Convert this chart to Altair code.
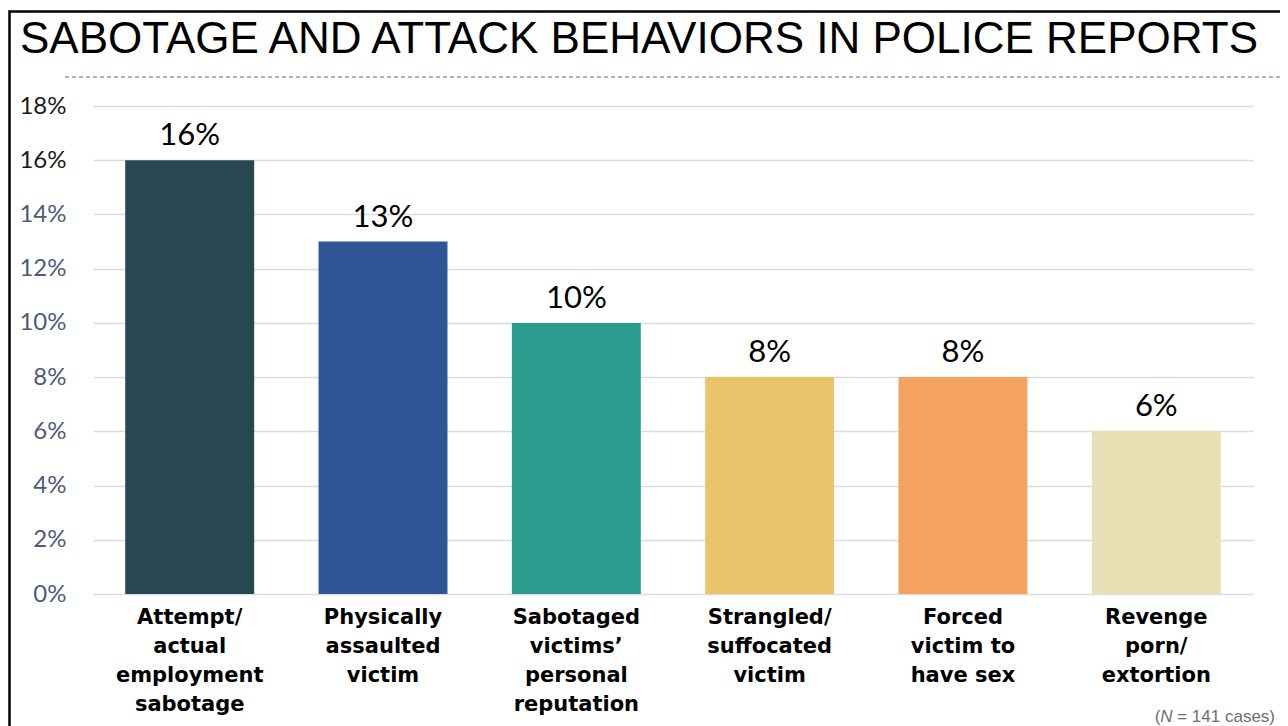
import altair as alt
import pandas as pd

categories = [
    "Attempt/\nactual\nemployment\nsabotage",
    "Physically\nassaulted\nvictim",
    "Sabotaged\nvictims’\npersonal\nreputation",
    "Strangled/\nsuffocated\nvictim",
    "Forced\nvictim to\nhave sex",
    "Revenge\nporn/\nextortion",
]
values = [16, 13, 10, 8, 8, 6]
colors = ["#274751", "#2F5597", "#2A9D8F", "#E9C46A", "#F4A261", "#E8E0B5"]
y_ticks = [0, 2, 4, 6, 8, 10, 12, 14, 16, 18]
title_text = "SABOTAGE AND ATTACK BEHAVIORS IN POLICE REPORTS"

df = pd.DataFrame({"cat": categories, "val": values, "color": colors,
                   "label": [f"{v}%" for v in values]})

W, H = 1160, 488

x_enc = alt.X("cat:N", sort=categories, title=None,
              scale=alt.Scale(paddingInner=0.333, paddingOuter=0.1667),
              axis=alt.Axis(labelExpr="split(datum.label, '\\n')", labelAngle=0,
                            labelFont="DejaVu Sans", labelFontWeight="bold",
                            labelFontSize=21, labelLineHeight=29, labelColor="#000000",
                            labelPadding=12, ticks=False, domain=False, labelLimit=300))
y_enc = alt.Y("val:Q", title=None,
              scale=alt.Scale(domain=[0, 18], nice=False),
              axis=alt.Axis(values=y_ticks, labelExpr="datum.value + '%'",
                            labelFont="Lato", labelFontSize=24,
                            labelColor={"condition": {"test": "datum.value >= 16", "value": "#1a1a1a"},
                                        "value": "#4d5b7c"},
                            labelPadding=27, ticks=False, domain=False,
                            grid=True, gridColor="#dcdcdc", gridWidth=1.5))

bars = alt.Chart(df).mark_bar().encode(
    x=x_enc, y=y_enc, color=alt.Color("color:N", scale=None))

texts = alt.Chart(df).mark_text(font="Lato", fontSize=31, dy=-15, baseline="alphabetic",
                                color="#000000").encode(
    x=alt.X("cat:N", sort=categories), y="val:Q", text="label:N")

title = alt.Chart(pd.DataFrame({"t": [title_text]})).mark_text(
    font="Liberation Sans", fontSize=44, align="left", baseline="alphabetic", color="#000000"
).encode(x=alt.value(-73), y=alt.value(-53), text="t:N")

dash = alt.Chart(pd.DataFrame({"a": [0]})).mark_rule(
    color="#4f6490", strokeDash=[4, 3], strokeWidth=1.2
).encode(x=alt.value(-28), x2=alt.value(1188), y=alt.value(-29))

frame = alt.Chart(pd.DataFrame({"a": [0]})).mark_rect(
    fill=None, fillOpacity=0, stroke="#000000", strokeWidth=2.5
).encode(x=alt.value(-83.5), x2=alt.value(1188.5), y=alt.value(-94.5), y2=alt.value(700))

foot1 = alt.Chart(pd.DataFrame({"t": [" = 141 cases)"]})).mark_text(
    font="Liberation Sans", fontSize=17, align="right", baseline="alphabetic", color="#6e6e6e"
).encode(x=alt.value(1182), y=alt.value(616), text="t:N")
foot2 = alt.Chart(pd.DataFrame({"t": ["N"]})).mark_text(
    font="Liberation Sans", fontSize=17, fontStyle="italic", align="right",
    baseline="alphabetic", color="#6e6e6e"
).encode(x=alt.value(1079.5), y=alt.value(616), text="t:N")
foot3 = alt.Chart(pd.DataFrame({"t": ["("]})).mark_text(
    font="Liberation Sans", fontSize=17, align="right", baseline="alphabetic", color="#6e6e6e"
).encode(x=alt.value(1067.5), y=alt.value(616), text="t:N")

chart = alt.layer(bars, texts, title, dash, frame, foot1, foot2, foot3).properties(
    width=W, height=H,
    autosize=alt.AutoSizeParams(type="none"),
    padding={"left": 85, "top": 98, "right": 27, "bottom": 132},
    background="#ffffff",
).configure_view(strokeWidth=0, stroke="transparent")

chart.save("out.html", embed_options={"renderer": "svg", "actions": False})
